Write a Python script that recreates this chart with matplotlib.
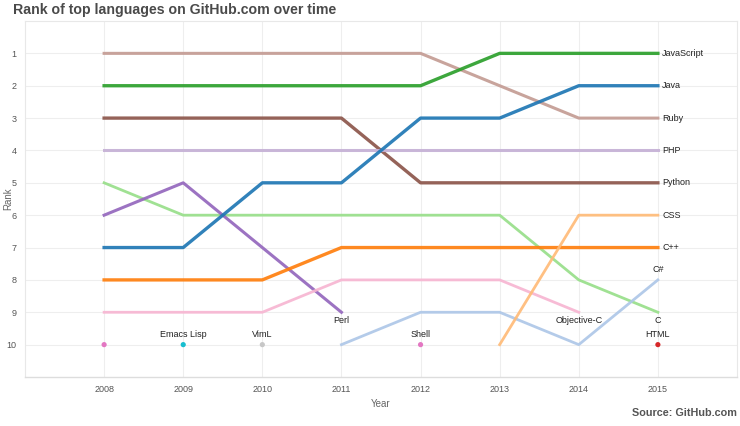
import matplotlib.pyplot as plt
import numpy as np

plt.rcParams["font.family"] = ["Liberation Sans", "DejaVu Sans"]

YEARS = [2008, 2009, 2010, 2011, 2012, 2013, 2014, 2015]

JAVASCRIPT = [2, 2, 2, 2, 2, 1, 1, 1]
RUBY = [1, 1, 1, 1, 1, 2, 3, 3]
PYTHON = [3, 3, 3, 3, 5, 5, 5, 5]
PHP = [4, 4, 4, 4, 4, 4, 4, 4]
JAVA = [7, 7, 5, 5, 3, 3, 2, 2]
CPP = [8, 8, 8, 7, 7, 7, 7, 7]
C_LANG = [5, 6, 6, 6, 6, 6, 8, 9]
PERL_YEARS = [2008, 2009, 2010, 2011]
PERL = [6, 5, 7, 9]
OBJC_YEARS = [2008, 2009, 2010, 2011, 2012, 2013, 2014]
OBJC = [9, 9, 9, 8, 8, 8, 9]
CSS_YEARS = [2013, 2014, 2015]
CSS = [10, 6, 6]
CSHARP_YEARS = [2011, 2012, 2013, 2014, 2015]
CSHARP = [10, 9, 9, 10, 8]

DOT_YEARS = [2008, 2009, 2010, 2012, 2015]
DOT_RANKS = [10, 10, 10, 10, 10]
DOT_LABELS = ["", "Emacs Lisp", "VimL", "Shell", "HTML"]
DOT_COLORS = ["#e377c2", "#17becf", "#c7c7c7", "#e377c2", "#d62728"]

series = [
    ("Ruby", YEARS, RUBY, "#c49c94", 2.2, "right"),
    ("JavaScript", YEARS, JAVASCRIPT, "#2ca02c", 2.4, "right"),
    ("Python", YEARS, PYTHON, "#8c564b", 2.4, "right"),
    ("PHP", YEARS, PHP, "#c5b0d5", 2.2, "right"),
    ("C", YEARS, C_LANG, "#98df8a", 2.0, "below"),
    ("Perl", PERL_YEARS, PERL, "#9467bd", 2.2, "below"),
    ("Java", YEARS, JAVA, "#1f77b4", 2.4, "right"),
    ("C++", YEARS, CPP, "#ff7f0e", 2.4, "right"),
    ("Objective-C", OBJC_YEARS, OBJC, "#f7b6d2", 2.0, "below"),
    ("C#", CSHARP_YEARS, CSHARP, "#aec7e8", 2.0, "above"),
    ("CSS", CSS_YEARS, CSS, "#ffbb78", 2.0, "right"),
]

fig = plt.figure(figsize=(7.4, 4.26), dpi=100)
ax = fig.add_axes([25 / 740, 1 - 377 / 426, 712 / 740, 356 / 426])

for name, xs, ys, color, lw, where in series:
    ax.plot(xs, ys, color=color, linewidth=lw, alpha=0.92, zorder=3)
    x_end, y_end = xs[-1], ys[-1]
    if where == "right":
        ax.annotate(name, (x_end, y_end), xytext=(3, 0), textcoords="offset points",
                    ha="left", va="center", fontsize=6.5, color="#222222")
    elif where == "below":
        ax.annotate(name, (x_end, y_end), xytext=(0, -3), textcoords="offset points",
                    ha="center", va="top", fontsize=6.5, color="#222222")
    else:
        ax.annotate(name, (x_end, y_end), xytext=(0, 4), textcoords="offset points",
                    ha="center", va="bottom", fontsize=6.5, color="#222222")

ax.scatter(DOT_YEARS, DOT_RANKS, s=14, c=DOT_COLORS, zorder=4, linewidths=0)
for x, y, label in zip(DOT_YEARS, DOT_RANKS, DOT_LABELS):
    if label:
        ax.annotate(label, (x, y), xytext=(0, 4), textcoords="offset points",
                    ha="center", va="bottom", fontsize=6.5, color="#222222")

ax.set_xlim(2007, 2016)
ax.set_ylim(11, 0)
ax.set_xticks(YEARS)
ax.set_yticks(range(1, 11))
ax.tick_params(length=0, labelsize=6.5, labelcolor="#555555", pad=6)
ax.grid(True, color="#eeeeee", linewidth=0.8, zorder=0)
ax.set_axisbelow(True)
for side in ["top", "right", "left"]:
    ax.spines[side].set_color("#e8e8e8")
    ax.spines[side].set_linewidth(0.8)
ax.spines["bottom"].set_color("#dddddd")
ax.spines["bottom"].set_linewidth(1.0)

ax.set_xlabel("Year", fontsize=7, color="#666666")
ax.set_ylabel("Rank", fontsize=7, color="#666666")
ax.xaxis.set_label_coords(0.5, -22 / 356)
ax.yaxis.set_label_coords(-12 / 712, 0.5)

fig.text(13 / 740, 1 - 10 / 426, "Rank of top languages on GitHub.com over time",
         ha="left", va="center", fontsize=10.2, fontweight="bold", color="#4a4a4a")
fig.text(737 / 740, 1 - 413 / 426, "Source: GitHub.com",
         ha="right", va="center", fontsize=7.8, fontweight="bold", color="#555555")

fig.savefig("out.png", dpi=100)
